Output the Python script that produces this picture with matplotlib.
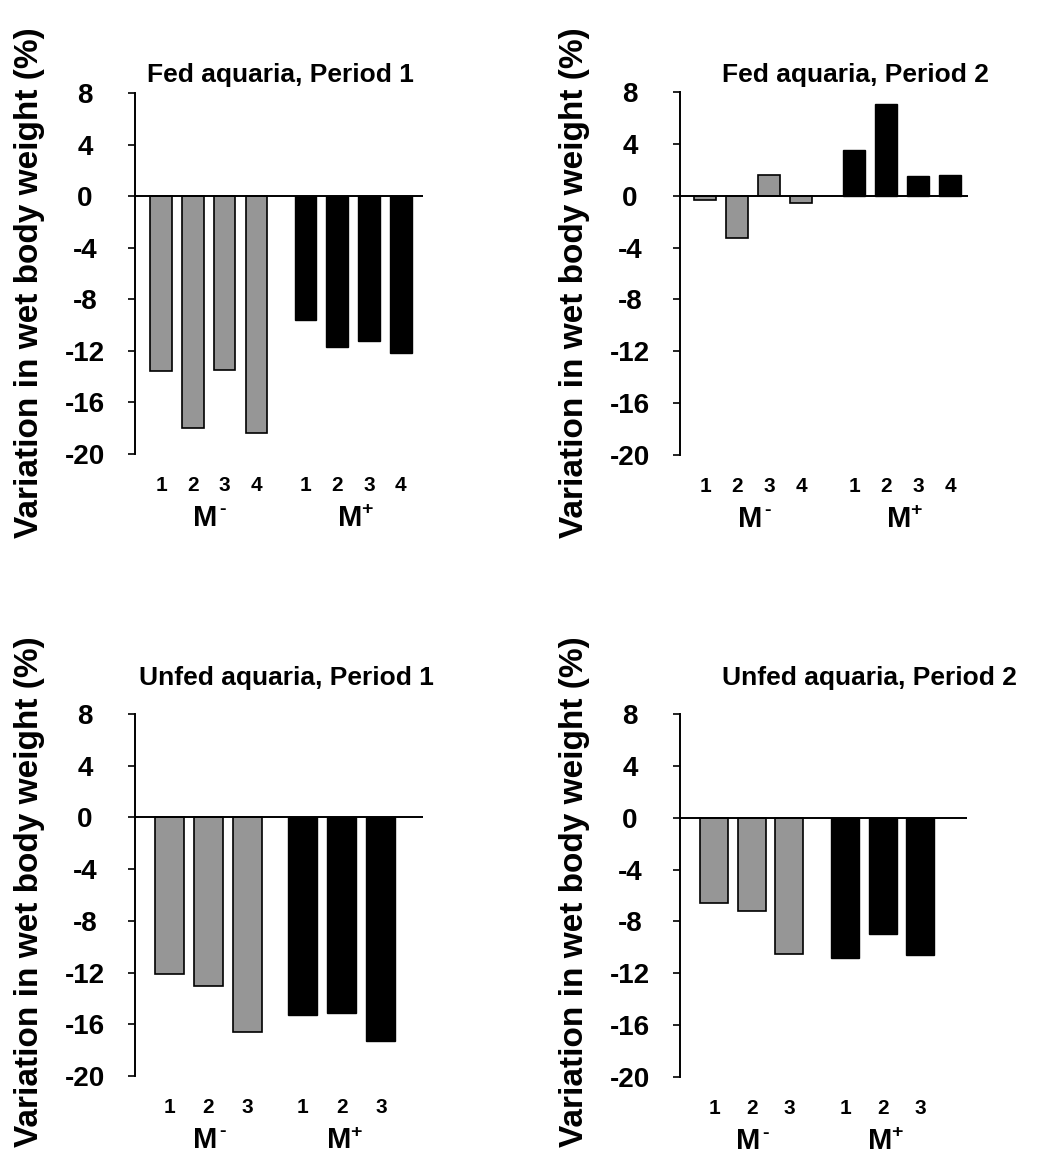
import matplotlib
matplotlib.use("Agg")
import matplotlib.pyplot as plt

plt.rcParams['font.family'] = ['Liberation Sans', 'DejaVu Sans']
plt.rcParams['font.weight'] = 'bold'

# ---- data ----
titles = ["Fed aquaria, Period 1", "Fed aquaria, Period 2",
          "Unfed aquaria, Period 1", "Unfed aquaria, Period 2"]
fed_p1_mminus = [-13.6, -18.0, -13.5, -18.4]
fed_p1_mplus = [-9.6, -11.7, -11.2, -12.2]
fed_p2_mminus = [-0.3, -3.3, 1.6, -0.6]
fed_p2_mplus = [3.5, 7.1, 1.5, 1.6]
unfed_p1_mminus = [-12.1, -13.0, -16.6]
unfed_p1_mplus = [-15.3, -15.1, -17.3]
unfed_p2_mminus = [-6.6, -7.2, -10.5]
unfed_p2_mplus = [-10.8, -9.0, -10.6]
yticks = [8, 4, 0, -4, -8, -12, -16, -20]
ylabel = "Variation in wet body weight (%)"
group_base = "M"
group_sups = ["-", "+"]

W, H = 1054, 1164
fig = plt.figure(figsize=(W / 100, H / 100), dpi=100)

def px_axes(left, right, top, bottom):
    return fig.add_axes([left / W, 1 - bottom / H, (right - left) / W, (bottom - top) / H])

panels = [
    dict(box=(135, 423, 93, 454), mm=fed_p1_mminus, mp=fed_p1_mplus, gap=1.55,
         width=0.68, xl=(-0.82, 8.25), title_xy=(280, 75)),
    dict(box=(680, 968, 92, 455), mm=fed_p2_mminus, mp=fed_p2_mplus, gap=1.65,
         width=0.68, xl=(-0.78, 8.2), title_xy=(855, 75)),
    dict(box=(135, 423, 714, 1076), mm=unfed_p1_mminus, mp=unfed_p1_mplus, gap=1.42,
         width=0.74, xl=(-0.88, 6.5), title_xy=(286, 678)),
    dict(box=(680, 967, 714, 1077), mm=unfed_p2_mminus, mp=unfed_p2_mplus, gap=1.5,
         width=0.75, xl=(-0.91, 6.75), title_xy=(869, 678)),
]

for i, p in enumerate(panels):
    ax = px_axes(*p['box'])
    n = len(p['mm'])
    xm = list(range(n))
    xp = [n - 1 + p['gap'] + k for k in range(n)]
    ax.bar(xm, p['mm'], width=p['width'], color='#969696', edgecolor='black', linewidth=1.2, zorder=2)
    ax.bar(xp, p['mp'], width=p['width'], color='black', edgecolor='black', linewidth=1.0, zorder=2)
    ax.axhline(0, color='black', linewidth=1.4, zorder=3)
    ax.set_xlim(*p['xl'])
    ax.set_ylim(-20, 8)
    for s in ['top', 'right', 'bottom']:
        ax.spines[s].set_visible(False)
    ax.spines['left'].set_linewidth(1.4)
    ax.set_yticks(yticks)
    ax.set_yticklabels([str(t) for t in yticks], fontsize=20, fontweight='bold', ha='center')
    ax.tick_params(axis='y', length=5, width=1.2, pad=31)
    ax.set_xticks(xm + xp)
    ax.set_xticklabels([str(k + 1) for k in range(n)] * 2, fontsize=15, fontweight='bold')
    ax.tick_params(axis='x', length=0, pad=16)
    for sup, xs in zip(group_sups, [xm, xp]):
        xc = sum(xs) / len(xs)
        ax.annotate(group_base, xy=(xc, 0), xycoords=('data', 'axes fraction'),
                    xytext=(-3, -64), textcoords='offset pixels', ha='center', va='center',
                    fontsize=21, fontweight='bold')
        ax.annotate(sup, xy=(xc, 0), xycoords=('data', 'axes fraction'),
                    xytext=(14, -56), textcoords='offset pixels', ha='center', va='center',
                    fontsize=14, fontweight='bold')
    tx, ty = p['title_xy']
    fig.text(tx / W, 1 - ty / H, titles[i], ha='center', va='center', fontsize=19, fontweight='bold')
    lx = 30 if p['box'][0] < 500 else 575
    ly = 283 if p['box'][2] < 500 else 892
    fig.text(lx / W, 1 - ly / H, ylabel, rotation=90, ha='center', va='center',
             fontsize=24, fontweight='bold')

fig.savefig("out.png", dpi=100)
